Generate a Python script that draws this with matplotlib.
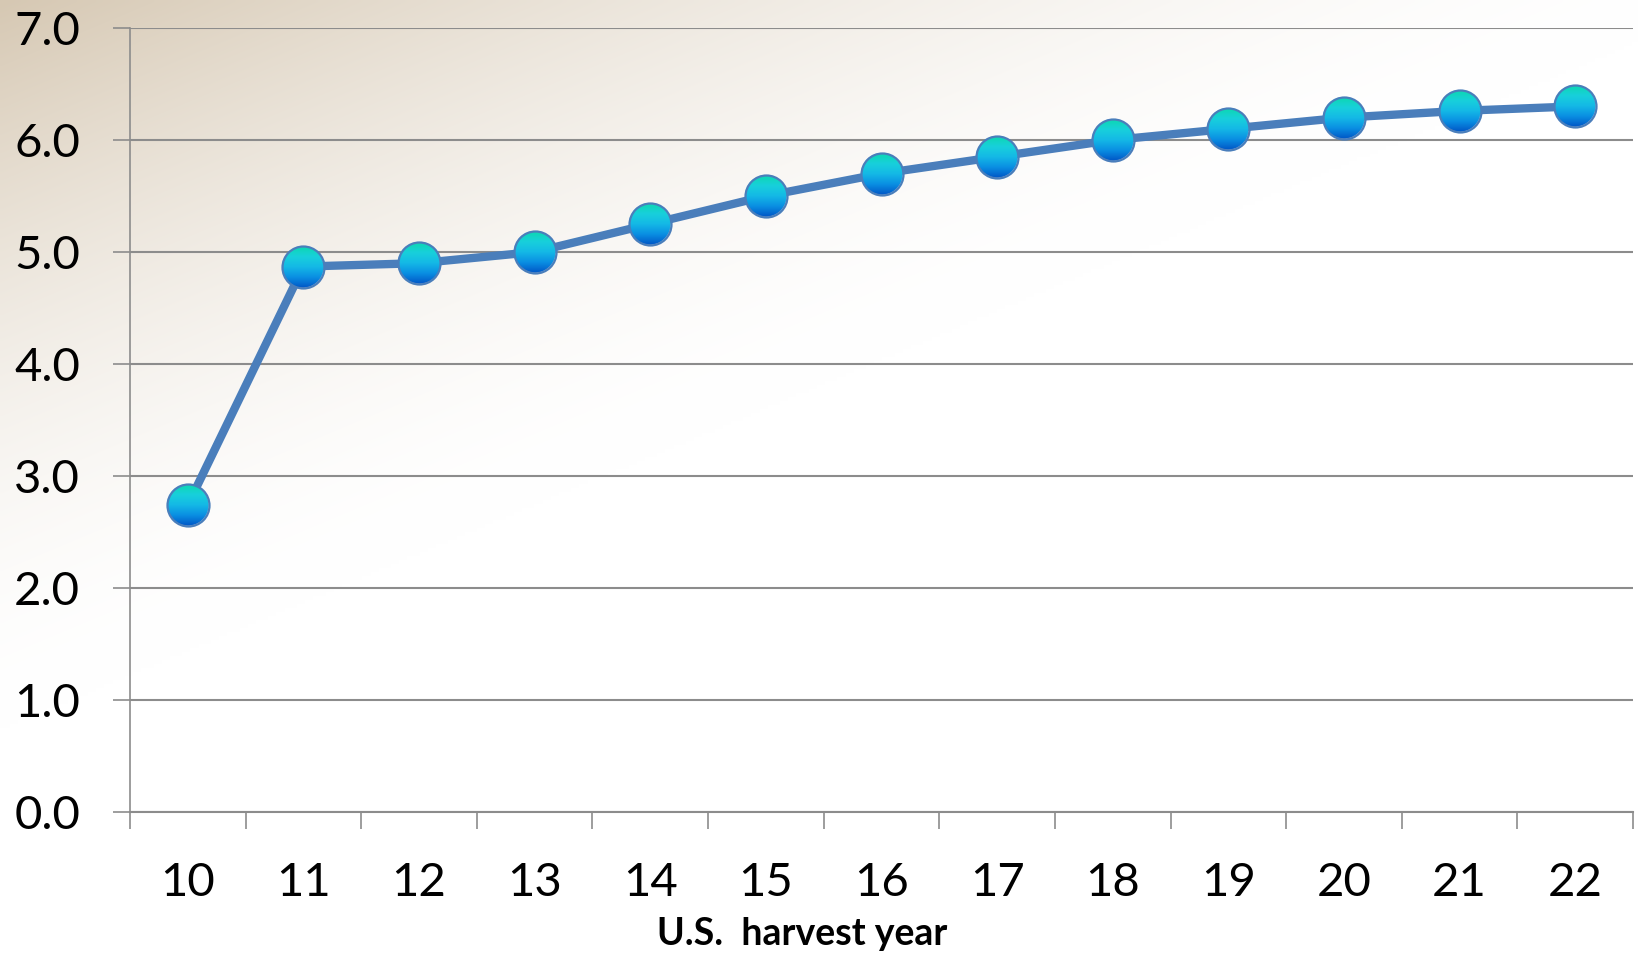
import numpy as np
import matplotlib.pyplot as plt
from matplotlib.colors import LinearSegmentedColormap, to_rgb

years = ["10", "11", "12", "13", "14", "15", "16", "17", "18", "19", "20", "21", "22"]
values = [2.74, 4.87, 4.90, 5.00, 5.25, 5.50, 5.70, 5.85, 6.00, 6.10, 6.20, 6.26, 6.30]

plt.rcParams["font.family"] = ["Lato", "DejaVu Sans"]

W, H, DPI = 1638, 957, 100
fig = plt.figure(figsize=(W / DPI, H / DPI), dpi=DPI)

# diagonal beige-to-white wash behind everything
bg = fig.add_axes([0, 0, 1, 1], zorder=-1)
u, v = np.meshgrid(np.linspace(0, 1, 400), np.linspace(0, 1, 240))
t = np.clip(1 - (u * 0.9 + v * 1.25) / 0.95, 0, 1) ** 1.7
tan = np.array(to_rgb("#d6c8b3"))
wash = np.ones((240, 400, 3)) * (1 - t[..., None]) + tan * t[..., None]
bg.imshow(wash, extent=(0, 1, 0, 1), aspect="auto", origin="upper", interpolation="bilinear")
bg.axis("off")

ax = fig.add_axes([130 / W, 1 - 812 / H, 1503 / W, 784 / H])
ax.set_facecolor("none")

x = np.arange(len(years))
grid_c = "#8c8c8c"

ax.plot(x, values, color="#4a7ebb", lw=6, solid_capstyle="round", zorder=3)

# shaded ball markers: a vertical gradient clipped to a disc
ball = LinearSegmentedColormap.from_list(
    "ball", ["#0cd8b0", "#18d0dc", "#14b8e6", "#0a8ee2", "#0056c6"])
n = 96
yy, xx = np.mgrid[0:n, 0:n]
rr = np.hypot(xx - (n - 1) / 2, yy - (n - 1) / 2) / (n / 2)
img = ball(np.linspace(0, 1, n))[:, None, :].repeat(n, axis=1)
img[..., 3] = np.clip((1 - rr) * n / 2, 0, 1)

r_px = 21
ax_w = ax.get_position().width * W
ax_h = ax.get_position().height * H
xlim = (-0.5, len(years) - 0.5)
ylim = (0, 7)
dx = r_px * (xlim[1] - xlim[0]) / ax_w
dy = r_px * (ylim[1] - ylim[0]) / ax_h
for xi, yi in zip(x, values):
    ax.imshow(img, extent=(xi - dx, xi + dx, yi - dy, yi + dy), aspect="auto",
              interpolation="bilinear", zorder=4)
ax.plot(x, values, "o", ms=2 * r_px * 72 / DPI, mfc="none", mec="#4a7ebb", mew=1.6, zorder=5)

ax.set_xlim(*xlim)
ax.set_ylim(*ylim)

ax.set_yticks(np.arange(0, 8, 1))
ax.set_yticklabels([f"{v:.1f}" for v in range(8)], fontsize=34)
ax.yaxis.grid(True, color=grid_c, lw=1.5)
ax.set_axisbelow(True)
ax.tick_params(axis="y", length=12, width=1.2, color=grid_c, pad=24)

ax.set_xticks(x)
ax.set_xticklabels(years, fontsize=34)
ax.set_xticks(np.arange(-0.5, len(years)), minor=True)
ax.tick_params(axis="x", which="major", length=0, pad=36)
ax.tick_params(axis="x", which="minor", length=12, width=1.2, color=grid_c)

for side in ["top", "right"]:
    ax.spines[side].set_visible(False)
ax.spines["left"].set_color(grid_c)
ax.spines["left"].set_linewidth(1.2)
ax.spines["bottom"].set_color(grid_c)
ax.spines["bottom"].set_linewidth(1.5)

fig.text(802 / W, 1 - 934 / H, "U.S.  harvest year", fontsize=27, fontweight="bold",
         ha="center", va="center")

fig.savefig("out.png", dpi=DPI)
